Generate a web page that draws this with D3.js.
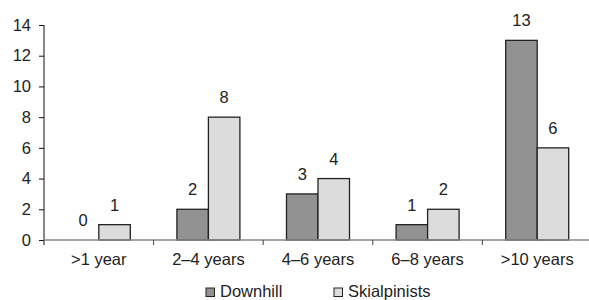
<!DOCTYPE html>
<html>
<head>
<meta charset="utf-8">
<script src="https://cdn.jsdelivr.net/npm/d3@7"></script>
<style>
  body { margin: 0; background: #fff; }
  text { font-family: "Liberation Sans", Arial, sans-serif; fill: #222; }
</style>
</head>
<body>
<script>
// data
var categories = [">1 year", "2\u20134 years", "4\u20136 years", "6\u20138 years", ">10 years"];
var seriesNames = ["Downhill", "Skialpinists"];
var downhill = [0, 2, 3, 1, 13];
var skialpinists = [1, 8, 4, 2, 6];
var yTicks = [0, 2, 4, 6, 8, 10, 12, 14];

var w = 589;
var h = 300;
var fs = "16.5px";
var colors = ["#929292", "#dcdcdc"];

var svg = d3.select("body")
            .append("svg")
            .attr("width", w)
            .attr("height", h);

var x = d3.scaleBand()
          .domain(categories)
          .range([44, 592])
          .paddingInner(0)
          .paddingOuter(0);

var x1 = d3.scaleBand()
           .domain(seriesNames)
           .range([x.bandwidth() / 2 - 31.5, x.bandwidth() / 2 + 31.5]);

var y = d3.scaleLinear()
          .domain([0, 14])
          .range([240, 25]);

// y axis
var yAxis = svg.append("g")
   .attr("transform", "translate(44,0)")
   .call(d3.axisLeft(y).tickValues(yTicks).tickSize(5).tickPadding(8));
yAxis.select(".domain").attr("d", "M0,25V245").attr("stroke", "#111");
yAxis.selectAll(".tick line").attr("stroke", "#111");
yAxis.selectAll("text").style("font-size", fs).attr("fill", "#222");

var rows = categories.map(function(c, i) {
  return { cat: c, vals: [downhill[i], skialpinists[i]] };
});

var groups = svg.selectAll("g.cat")
   .data(rows)
   .enter()
   .append("g")
   .attr("class", "cat")
   .attr("transform", function(d) { return "translate(" + x(d.cat) + ",0)"; });

groups.selectAll("rect")
   .data(function(d) { return d.vals; })
   .enter()
   .append("rect")
   .attr("x", function(d, i) { return x1(seriesNames[i]); })
   .attr("y", function(d) { return y(d); })
   .attr("width", x1.bandwidth())
   .attr("height", function(d) { return y(0) - y(d); })
   .attr("fill", function(d, i) { return colors[i]; })
   .attr("stroke", "#222")
   .attr("stroke-width", 1.3)
   .attr("stroke-opacity", function(d) { return d === 0 ? 0 : 1; });

groups.selectAll("text.val")
   .data(function(d) { return d.vals; })
   .enter()
   .append("text")
   .attr("class", "val")
   .attr("x", function(d, i) { return x1(seriesNames[i]) + x1.bandwidth() / 2; })
   .attr("y", function(d) { return y(d) - 14; })
   .attr("text-anchor", "middle")
   .style("font-size", fs)
   .text(function(d) { return d; });

// x axis
var xAxis = svg.append("g")
   .attr("transform", "translate(0,240)")
   .call(d3.axisBottom(x).tickSize(0).tickPadding(13));
xAxis.select(".domain").attr("d", "M44,0H589").attr("stroke", "#888").attr("stroke-width", 1.5);
xAxis.selectAll("text").style("font-size", fs).attr("fill", "#222");

// category separators
svg.selectAll("line.sep")
   .data(categories.slice(1))
   .enter()
   .append("line")
   .attr("class", "sep")
   .attr("x1", function(d) { return x(d); })
   .attr("x2", function(d) { return x(d); })
   .attr("y1", 240)
   .attr("y2", 245)
   .attr("stroke", "#444");

// legend
var legend = svg.selectAll("g.legend")
   .data(seriesNames)
   .enter()
   .append("g")
   .attr("class", "legend")
   .attr("transform", function(d, i) { return "translate(" + (206 + i * 128) + ",288)"; });

legend.append("rect")
   .attr("width", 8.5)
   .attr("height", 8.5)
   .attr("fill", function(d, i) { return colors[i]; })
   .attr("stroke", "#222");

legend.append("text")
   .attr("x", 14)
   .attr("y", 8.7)
   .style("font-size", fs)
   .text(function(d) { return d; });
</script>
</body>
</html>
